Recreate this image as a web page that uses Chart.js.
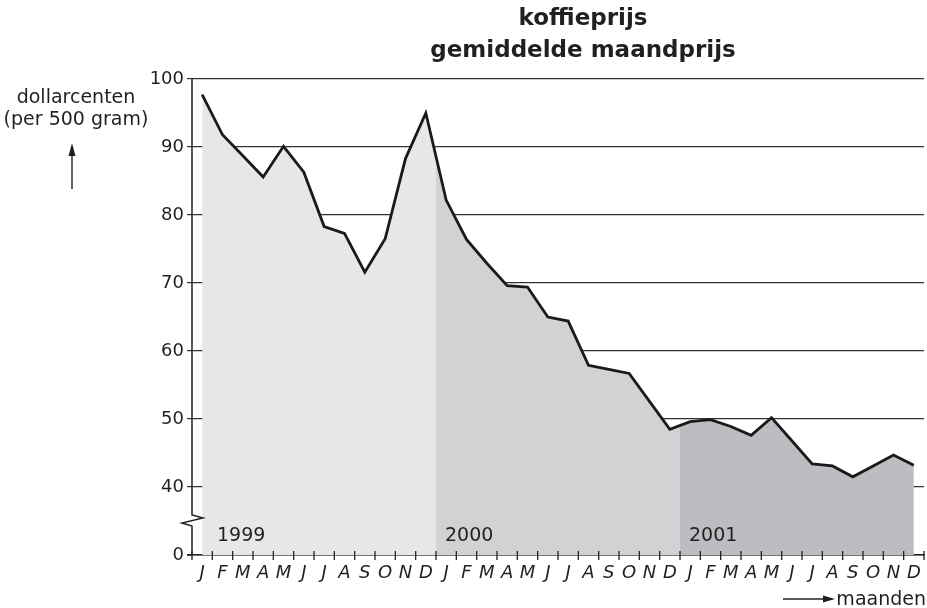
<!DOCTYPE html>
<html><head><meta charset="utf-8">
<script src="https://cdn.jsdelivr.net/npm/chart.js@4/dist/chart.umd.min.js"></script>
<style>html,body{margin:0;padding:0;background:#fff;}canvas{display:block;}</style>
</head><body>
<canvas id="c" width="927" height="608"></canvas>
<script>
// ---- data ----
const monthLetters = ['J','F','M','A','M','J','J','A','S','O','N','D'];
const years = ['1999','2000','2001'];
const prices1999 = [97.7, 91.8, 88.7, 85.6, 90.1, 86.3, 78.3, 77.3, 71.6, 76.5, 88.3, 95.0];
const prices2000 = [82.2, 76.4, 72.9, 69.6, 69.4, 65.0, 64.4, 57.9, 57.3, 56.7, 52.6, 48.5];
const prices2001 = [49.6, 49.9, 48.9, 47.6, 50.2, 46.8, 43.4, 43.1, 41.5, 43.1, 44.7, 43.2];
const yTickValues = [30, 40, 50, 60, 70, 80, 90, 100]; // lowest tick stands for 0 (broken axis)
const yTickLabels = ['0', '40', '50', '60', '70', '80', '90', '100'];
const titleLines = ['koffieprijs', 'gemiddelde maandprijs'];
const yAxisTitle = ['dollarcenten', '(per 500 gram)'];
const xAxisTitle = 'maanden';
const yearColors = ['#e6e7e8', '#d1d2d4', '#bcbdc0'];

const categories = years.flatMap(() => monthLetters);
const prices = [...prices1999, ...prices2000, ...prices2001];

const FONT = '"DejaVu Sans", sans-serif';
const TEXT = '#231f20';

function yearFill(context) {
  const chart = context.chart;
  const xs = chart.scales.x, a = chart.chartArea;
  if (!a || !xs) return yearColors[0];
  const g = chart.ctx.createLinearGradient(a.left, 0, a.right, 0);
  const half = (xs.getPixelForValue(1) - xs.getPixelForValue(0)) / 2;
  const span = a.right - a.left;
  const n = monthLetters.length;
  years.forEach((y, i) => {
    const s = i === 0 ? a.left : xs.getPixelForValue(i * n) - half;
    const e = i === years.length - 1 ? a.right : xs.getPixelForValue((i + 1) * n) - half;
    g.addColorStop(Math.max(0, (s - a.left) / span), yearColors[i]);
    g.addColorStop(Math.min(1, (e - a.left) / span), yearColors[i]);
  });
  return g;
}

const decor = {
  id: 'decor',
  afterDraw(chart) {
    const { ctx, chartArea: a } = chart;
    const xs = chart.scales.x, ys = chart.scales.y;
    ctx.save();
    ctx.strokeStyle = '#222';
    ctx.fillStyle = TEXT;
    // y axis line with break symbol
    const x0 = a.left;
    const yb = (ys.getPixelForValue(yTickValues[0]) + ys.getPixelForValue(yTickValues[1])) / 2;
    ctx.lineWidth = 1.5;
    ctx.lineJoin = 'miter';
    ctx.beginPath();
    ctx.moveTo(x0, a.top);
    ctx.lineTo(x0, yb - 6);
    ctx.lineTo(x0 + 11, yb - 3);
    ctx.lineTo(x0 - 10, yb + 2);
    ctx.lineTo(x0, yb + 5);
    ctx.lineTo(x0, a.bottom);
    ctx.stroke();
    // x tick marks crossing the axis at month boundaries
    const step = xs.getPixelForValue(1) - xs.getPixelForValue(0);
    ctx.lineWidth = 1.3;
    ctx.beginPath();
    for (let i = 0; i <= categories.length; i++) {
      const px = i < categories.length ? xs.getPixelForValue(i) - step / 2 : xs.getPixelForValue(i - 1) + step / 2;
      ctx.moveTo(px, a.bottom - 4);
      ctx.lineTo(px, a.bottom + 5);
    }
    ctx.moveTo(a.left - 5, a.bottom); ctx.lineTo(a.left, a.bottom);
    ctx.stroke();
    // year labels
    ctx.font = '19px ' + FONT;
    ctx.textAlign = 'left';
    ctx.textBaseline = 'alphabetic';
    years.forEach((y, i) => {
      const left = xs.getPixelForValue(i * monthLetters.length) - step / 2;
      ctx.fillText(y, left + (i === 0 ? 25 : 9), a.bottom - 14);
    });
    // title
    const cx = (a.left + a.right) / 2 + 25;
    ctx.font = 'bold 23px ' + FONT;
    ctx.textAlign = 'center';
    ctx.fillText(titleLines[0], cx, a.top - 54);
    ctx.fillText(titleLines[1], cx, a.top - 22);
    // y axis title
    ctx.font = '19px ' + FONT;
    ctx.fillText(yAxisTitle[0], 76, a.top + 24);
    ctx.fillText(yAxisTitle[1], 76, a.top + 46);
    // up arrow
    ctx.lineWidth = 1.4;
    ctx.beginPath(); ctx.moveTo(72, a.top + 110); ctx.lineTo(72, a.top + 76); ctx.stroke();
    ctx.beginPath(); ctx.moveTo(72, a.top + 64); ctx.lineTo(68.5, a.top + 77); ctx.lineTo(75.5, a.top + 77); ctx.closePath(); ctx.fill();
    // x axis title with arrow
    ctx.textAlign = 'right';
    ctx.fillText(xAxisTitle, 926, 605);
    ctx.beginPath(); ctx.moveTo(783, 599); ctx.lineTo(825, 599); ctx.stroke();
    ctx.beginPath(); ctx.moveTo(835, 599); ctx.lineTo(823, 595.5); ctx.lineTo(823, 602.5); ctx.closePath(); ctx.fill();
    ctx.restore();
  }
};

new Chart(document.getElementById('c'), {
  type: 'line',
  data: {
    labels: categories,
    datasets: [{
      data: prices,
      borderColor: '#1a1a1a',
      borderWidth: 2.8,
      borderJoinStyle: 'miter',
      pointRadius: 0,
      tension: 0,
      fill: 'start',
      backgroundColor: yearFill
    }]
  },
  options: {
    responsive: false,
    animation: false,
    devicePixelRatio: 1,
    layout: { padding: { top: 79, right: 3, bottom: 0, left: 0 } },
    plugins: { legend: { display: false }, tooltip: { enabled: false }, title: { display: false } },
    scales: {
      x: {
        type: 'category',
        offset: true,
        grid: { display: false, drawTicks: false },
        border: { display: true, color: '#222', width: 1.5 },
        ticks: { color: TEXT, font: { family: FONT, size: 18, style: 'italic' }, padding: 8, maxRotation: 0, autoSkip: false },
        afterFit(s) { s.height = 53; s.paddingLeft = 0; s.paddingRight = 0; }
      },
      y: {
        min: 30, max: 100, z: 1,
        afterBuildTicks(s) { s.ticks = yTickValues.map(v => ({ value: v })); },
        grid: { color: '#333', lineWidth: 1.2, tickLength: 5, drawTicks: true },
        border: { display: false },
        ticks: { color: TEXT, font: { family: FONT, size: 18 }, padding: 3,
          callback: (v) => yTickLabels[yTickValues.indexOf(v)] },
        afterFit(s) { s.width = 192; s.paddingTop = 0; s.paddingBottom = 0; }
      }
    }
  },
  plugins: [decor]
});
</script>
</body></html>
